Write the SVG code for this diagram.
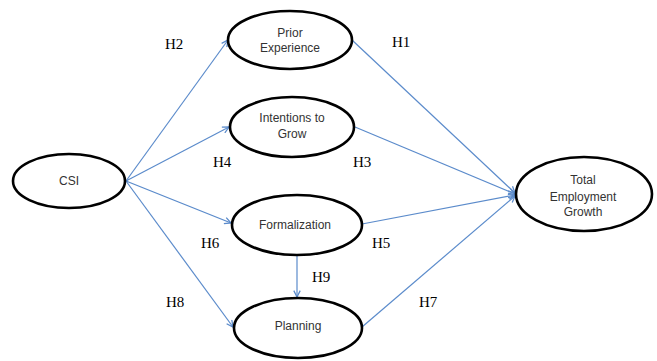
<svg xmlns="http://www.w3.org/2000/svg" width="657" height="361" viewBox="0 0 657 361">
<defs>
<style>
.node ellipse{fill:#fff;stroke:#000;stroke-width:2.6}
.node text{font-family:"Liberation Sans",Arial,sans-serif;font-size:12px;fill:#333;text-anchor:middle}
.conn line{stroke:#5b8bcb;stroke-width:1.2;marker-end:url(#ah)}
.lbl{font-family:"Liberation Serif","Times New Roman",serif;font-size:15px;fill:#000}
</style>
<marker id="ah" viewBox="0 0 10 10" refX="9" refY="5" markerWidth="8" markerHeight="8" markerUnits="userSpaceOnUse" orient="auto">
<path d="M1,1 L9,5 L1,9" fill="none" stroke="#5b8bcb" stroke-width="1.6"/>
</marker>
</defs>
<rect width="657" height="361" fill="#fff"/>
<g class="conn" id="connectors">
<line x1="126" y1="181" x2="228" y2="40"/>
<line x1="126" y1="181" x2="229" y2="127"/>
<line x1="126" y1="181" x2="231" y2="223"/>
<line x1="126" y1="181" x2="233" y2="327"/>
<line x1="352" y1="40" x2="515" y2="193"/>
<line x1="355" y1="127" x2="515" y2="194"/>
<line x1="362" y1="224" x2="515" y2="195"/>
<line x1="362" y1="327" x2="515" y2="196"/>
<line x1="297" y1="256" x2="297" y2="297"/>
</g>
<g class="node" id="csi">
<ellipse cx="69" cy="181" rx="56" ry="27"/>
<text x="69" y="185">CSI</text>
</g>
<g class="node" id="prior">
<ellipse cx="290" cy="40" rx="62" ry="29"/>
<text x="290" y="37">Prior</text>
<text x="290" y="52">Experience</text>
</g>
<g class="node" id="intentions">
<ellipse cx="292" cy="127" rx="62" ry="30"/>
<text x="292" y="122">Intentions to</text>
<text x="292" y="138">Grow</text>
</g>
<g class="node" id="formalization">
<ellipse cx="297" cy="225" rx="65" ry="30"/>
<text x="295" y="229">Formalization</text>
</g>
<g class="node" id="planning">
<ellipse cx="298" cy="328" rx="64" ry="30"/>
<text x="298" y="330">Planning</text>
</g>
<g class="node" id="teg">
<ellipse cx="584" cy="194" rx="68" ry="37"/>
<text x="583" y="184">Total</text>
<text x="583" y="201">Employment</text>
<text x="583" y="216">Growth</text>
</g>
<g id="labels">
<text class="lbl" x="165" y="49">H2</text>
<text class="lbl" x="392" y="47">H1</text>
<text class="lbl" x="213" y="167">H4</text>
<text class="lbl" x="353" y="167">H3</text>
<text class="lbl" x="201" y="248">H6</text>
<text class="lbl" x="372" y="248">H5</text>
<text class="lbl" x="312" y="282">H9</text>
<text class="lbl" x="166" y="307">H8</text>
<text class="lbl" x="419" y="307">H7</text>
</g>
</svg>
